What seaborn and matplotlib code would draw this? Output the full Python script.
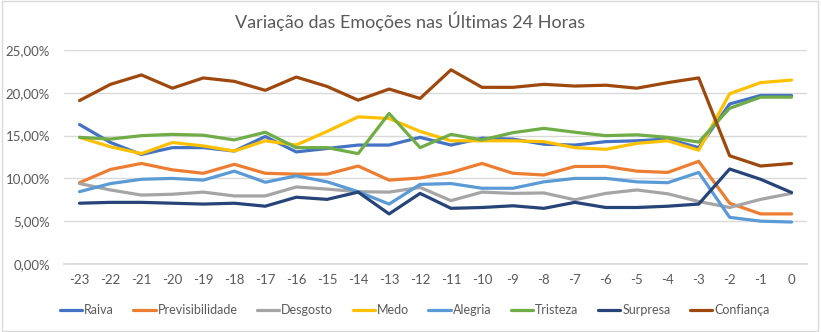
import numpy as np
import pandas as pd
import matplotlib
matplotlib.use("Agg")
import matplotlib.pyplot as plt
import seaborn as sns

hours = list(range(-23, 1))
raiva = [16.3, 14.2, 12.8, 13.6, 13.6, 13.2, 14.9, 13.1, 13.5, 13.9, 13.9, 14.8, 13.9, 14.7, 14.6, 14.0,
         13.9, 14.3, 14.4, 14.6, 13.6, 18.7, 19.7, 19.7]
previsibilidade = [9.5, 11.05, 11.75, 11.0, 10.6, 11.65, 10.6, 10.5, 10.5, 11.45, 9.8, 10.05, 10.7, 11.75,
                   10.6, 10.4, 11.4, 11.4, 10.85, 10.7, 12.0, 7.1, 5.85, 5.85]
desgosto = [9.4, 8.65, 8.05, 8.15, 8.4, 7.95, 7.95, 9.0, 8.75, 8.45, 8.4, 8.95, 7.4, 8.4, 8.25, 8.3,
            7.5, 8.25, 8.65, 8.2, 7.3, 6.6, 7.55, 8.25]
medo = [14.8, 13.7, 12.9, 14.2, 13.8, 13.2, 14.4, 13.9, 15.5, 17.2, 17.0, 15.5, 14.4, 14.4, 14.4, 14.3,
        13.6, 13.4, 14.1, 14.4, 13.3, 19.9, 21.2, 21.5]
alegria = [8.45, 9.4, 9.9, 10.0, 9.8, 10.85, 9.55, 10.3, 9.6, 8.45, 7.0, 9.3, 9.4, 8.85, 8.85, 9.6,
           10.0, 10.0, 9.6, 9.5, 10.7, 5.45, 5.0, 4.9]
tristeza = [14.8, 14.6, 15.0, 15.15, 15.05, 14.5, 15.4, 13.6, 13.6, 12.9, 17.6, 13.6, 15.15, 14.5, 15.35,
            15.85, 15.4, 15.0, 15.1, 14.8, 14.25, 18.2, 19.5, 19.5]
surpresa = [7.1, 7.2, 7.2, 7.1, 7.0, 7.1, 6.75, 7.8, 7.55, 8.4, 5.85, 8.25, 6.5, 6.6, 6.8, 6.5,
            7.2, 6.6, 6.6, 6.75, 7.0, 11.1, 9.9, 8.35]
confianca = [19.1, 21.0, 22.1, 20.55, 21.75, 21.35, 20.3, 21.85, 20.75, 19.15, 20.45, 19.35, 22.7, 20.65,
             20.65, 21.0, 20.8, 20.9, 20.55, 21.2, 21.75, 12.65, 11.45, 11.75]

series_names = ["Raiva", "Previsibilidade", "Desgosto", "Medo", "Alegria", "Tristeza", "Surpresa", "Confiança"]
series_values = [raiva, previsibilidade, desgosto, medo, alegria, tristeza, surpresa, confianca]
colors = ["#4472C4", "#ED7D31", "#A5A5A5", "#FFC000", "#5B9BD5", "#70AD47", "#264478", "#9E480E"]

rows = []
for name, vals in zip(series_names, series_values):
    for i, (h, v) in enumerate(zip(hours, vals)):
        rows.append({"idx": i, "hora": h, "emocao": name, "valor": v / 100.0})
df = pd.DataFrame(rows)

sns.set_theme(style="white")
plt.rcParams['font.family'] = ['Lato', 'DejaVu Sans']

fig = plt.figure(figsize=(8.21, 3.32), dpi=100)
ax = fig.add_axes([0.078, 0.205, 0.905, 0.644])

sns.lineplot(data=df, x="idx", y="valor", hue="emocao", hue_order=series_names,
             palette=colors, linewidth=2.3, ax=ax, legend=False, sort=False)

ax.set_xlim(-0.5, len(hours) - 0.5)
ax.set_ylim(0, 0.25)
ax.set_xticks(range(len(hours)))
ax.set_xticklabels([str(h) for h in hours])
yt = [0, 0.05, 0.10, 0.15, 0.20, 0.25]
ax.set_yticks(yt)
ax.set_yticklabels([f"{v*100:.2f}%".replace(".", ",") for v in yt])
ax.grid(axis="y", color="#D9D9D9", linewidth=1)
ax.set_axisbelow(True)
for s in ["top", "right", "left"]:
    ax.spines[s].set_visible(False)
ax.spines["bottom"].set_color("#D9D9D9")
ax.tick_params(axis="both", length=0, labelsize=9.5, labelcolor="#595959")
ax.tick_params(axis="x", pad=7)
ax.tick_params(axis="y", pad=10)
ax.set_xlabel("")
ax.set_ylabel("")

fig.suptitle("Variação das Emoções nas Últimas 24 Horas", y=0.965, fontsize=13, color="#595959")

from matplotlib.lines import Line2D
handles = [Line2D([0], [0], color=c, lw=2.3) for c in colors]
fig.legend(handles, series_names, loc="center", bbox_to_anchor=(0.505, 0.065), ncol=8, frameon=False,
           fontsize=9, labelcolor="#595959", handlelength=1.8, handletextpad=0.15, columnspacing=1.55)

border = plt.Rectangle((0.002, 0.003), 0.994, 0.994, transform=fig.transFigure, fill=False,
                       edgecolor="#D9D9D9", linewidth=1)
fig.patches.append(border)

fig.savefig("out.png", dpi=100)
